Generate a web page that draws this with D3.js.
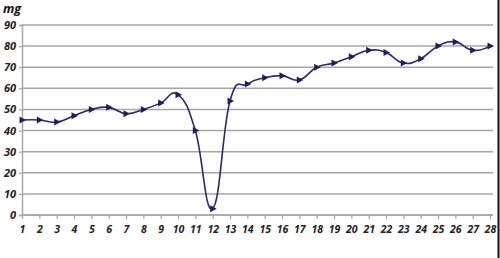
<!DOCTYPE html>
<html><head><meta charset="utf-8">
<script src="https://cdn.jsdelivr.net/npm/d3@7"></script>
<style>html,body{margin:0;padding:0;background:#fff;}svg{display:block;}</style>
</head><body>
<svg id="c" width="500" height="258"></svg>
<script>
const categories = d3.range(1, 29);
const values = [45,45,44,47,50,51,48,50,53,57,40,3,54,62,65,66,64,70,72,75,78,77,72,74,80,82,78,80];
const yTicks = [0,10,20,30,40,50,60,70,80,90];
const unitLabel = "mg";

(function(){
const svg = d3.select("#c");
const W = 500, H = 258;
const mLeft = 22, mRight = 490, mTop = 25, mBottom = 215;

const x = d3.scalePoint().domain(categories).range([mLeft, mRight]);
const y = d3.scaleLinear().domain([0, 90]).range([mBottom, mTop]);

const font = "'Open Sans', 'Noto Sans', sans-serif";

// gridlines
svg.append("g").selectAll("line").data(yTicks).join("line")
  .attr("x1", mLeft).attr("x2", 493)
  .attr("y1", d => y(d)).attr("y2", d => y(d))
  .attr("stroke", "#a6a6a6").attr("stroke-width", 1.5);

// y axis
const yAxis = svg.append("g").attr("transform", `translate(${mLeft},0)`)
  .call(d3.axisLeft(y).tickValues(yTicks).tickSize(3).tickPadding(3));
yAxis.select(".domain").attr("stroke", "#a6a6a6").attr("stroke-width", 1.5);
yAxis.selectAll(".tick line").attr("stroke", "#a6a6a6").attr("stroke-width", 1.2);
yAxis.selectAll("text").attr("font-family", font).attr("font-size", 11)
  .attr("font-style", "italic").attr("font-weight", "bold").attr("fill", "#222");

// x axis
const xAxis = svg.append("g").attr("transform", `translate(0,${mBottom})`)
  .call(d3.axisBottom(x).tickSize(4).tickPadding(7).tickSizeOuter(0));
xAxis.select(".domain").attr("stroke", "#a6a6a6").attr("stroke-width", 1.5)
  .attr("d", `M${mLeft},0H493`);
xAxis.selectAll(".tick line").attr("stroke", "#a6a6a6").attr("stroke-width", 1.2);
xAxis.selectAll("text").attr("font-family", font).attr("font-size", 10.5)
  .attr("font-style", "italic").attr("font-weight", "bold").attr("fill", "#222");

// unit label
svg.append("text").attr("x", 3).attr("y", 13).text(unitLabel)
  .attr("font-family", font).attr("font-size", 12.5)
  .attr("font-style", "italic").attr("font-weight", "bold").attr("fill", "#111");

// line
const pts = categories.map((c, i) => [x(c), y(values[i])]);
svg.append("path").datum(pts)
  .attr("d", d3.line().curve(d3.curveCardinal.tension(-0.35)))
  .attr("fill", "none").attr("stroke", "#2a2a78").attr("stroke-width", 1.6);

// markers: right-pointing triangles
svg.append("g").selectAll("path").data(pts).join("path")
  .attr("transform", d => `translate(${d[0]},${d[1]})`)
  .attr("d", "M-2.5,-3.5L4,0L-2.5,3.5Z")
  .attr("fill", "#1c1c6a");

// right border
svg.append("line").attr("x1", 498.5).attr("x2", 498.5).attr("y1", 0).attr("y2", H)
  .attr("stroke", "#111").attr("stroke-width", 2);
})();
</script>
</body></html>
